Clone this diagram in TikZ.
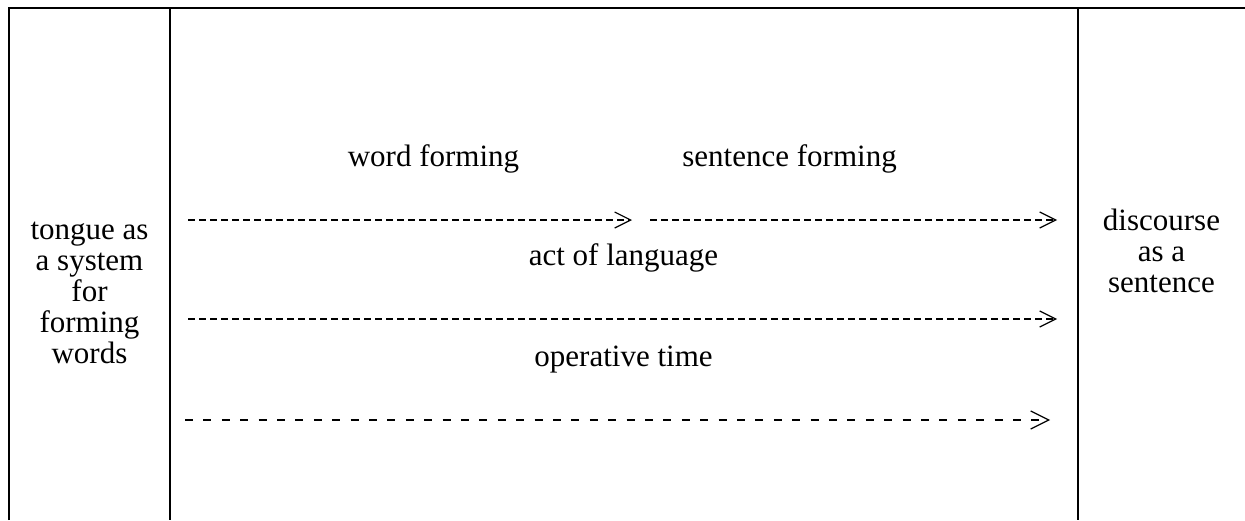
\documentclass[tikz,border=0pt]{standalone}
\usepackage{fontspec}
\setmainfont{Liberation Serif}
\usetikzlibrary{positioning,arrows.meta}

\begin{document}
\begin{tikzpicture}[x=0.5pt,y=-0.5pt,
    label text/.style={font=\fontsize{15.5}{15.5}\selectfont,inner sep=0pt},
    side text/.style={label text,align=center},
    frame line/.style={line width=0.75pt},
    flow/.style={line width=1.1pt,dash pattern=on 3.7pt off 1.8pt,
                 -{Straight Barb[length=8pt,width=8pt,line width=0.6pt]}},
    slow flow/.style={line width=1.1pt,dash pattern=on 4pt off 5.2pt,
                 -{Straight Barb[length=9pt,width=9pt,line width=0.6pt]}}
                      ]
   \useasboundingbox (0,0) rectangle (1245,520);
   % table frame
   \draw[frame line] (9,520) -- (9,8) -- (1245,8);
   \draw[frame line] (170,8) -- (170,520);
   \draw[frame line] (1078,8) -- (1078,520);
   % side columns
   \node[side text] (tongue) at (89.5,293) {tongue as\\a system\\for\\forming\\words};
   \node[side text] (discourse) at (1161.5,251) {discourse\\as a\\sentence};
   % middle column
   \node[label text,anchor=base] (word) at (433.5,166) {word forming};
   \node[label text,anchor=base west] (sentence) at (682,166) {sentence forming};
   \node[label text,anchor=base] (act) at (623.5,265) {act of language};
   \node[label text,anchor=base] (optime) at (623.5,366) {operative time};
   \coordinate (w0) at (188,220);
   \coordinate (w1) at (632,220);
   \coordinate (s0) at (650,220);
   \coordinate (s1) at (1057,220);
   \coordinate (a0) at (188,319);
   \coordinate (a1) at (1057,319);
   \coordinate (o0) at (185,420);
   \coordinate (o1) at (1050,420);
   \draw[flow] (w0) -- (w1);
   \draw[flow] (s0) -- (s1);
   \draw[flow] (a0) -- (a1);
   \draw[slow flow] (o0) -- (o1);
\end{tikzpicture}
\end{document}
